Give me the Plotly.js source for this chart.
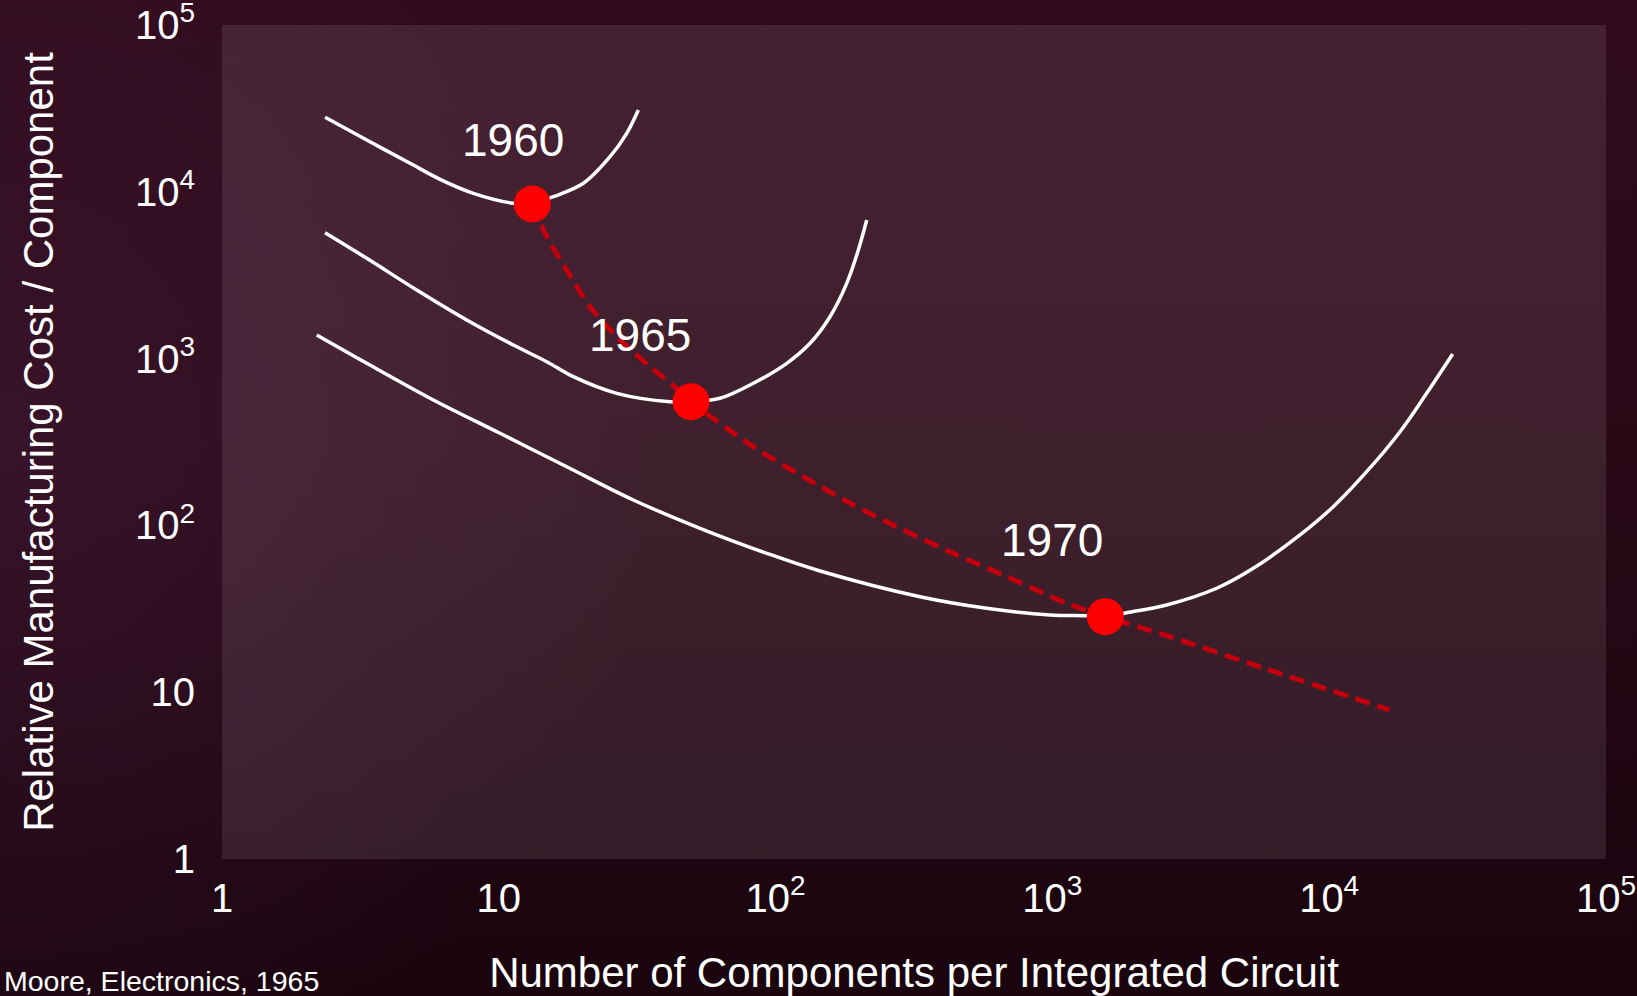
<!DOCTYPE html>
<html>
<head>
<meta charset="utf-8">
<script src="https://cdn.plot.ly/plotly-3.0.1.min.js"></script>
<style>
  html, body { margin: 0; padding: 0; width: 1637px; height: 996px; overflow: hidden; }
  body {
    background:
      radial-gradient(ellipse 40% 70% at 0% 45%, rgba(70, 30, 60, 0.5), rgba(70, 30, 60, 0) 100%),
      linear-gradient(to bottom, #300a1b 0%, #2a0917 45%, #1e0611 80%, #1a050e 100%);
  }
  #chart { width: 1637px; height: 996px; }
</style>
</head>
<body>
<div id="chart"></div>
<script>
// ---- data ----
const curve1960X = [2.356, 3.333, 4.777, 6.133, 8.088, 11.28, 13.21, 15.74, 20.20, 25.22, 28.98, 31.92];
const curve1960Y = [27970, 20440, 14820, 11880, 9795, 8534, 8452, 9346, 11246, 16230, 22420, 30930];

const curve1965X = [2.356, 3.333, 5.051, 7.656, 11.28, 14.90, 18.58, 26.67, 41.55, 49.48, 62.98, 83.09, 109.7, 133.2, 157.2, 180.7, 199.0, 213.4];
const curve1965Y = [5685, 3994, 2578, 1704, 1206, 958, 779, 619, 551, 551, 578, 711, 937, 1235, 1783, 2828, 4478, 6773];

const curve1970X = [2.198, 3.333, 5.799, 10.10, 17.59, 30.61, 53.33, 92.86, 144.7, 332.4, 579.1, 979.9, 1330, 1553, 1855, 2588, 3923, 5319, 7845, 10345, 13660, 18030, 22500, 27940];
const curve1970Y = [1385, 937, 565, 356.6, 224.9, 142.0, 96.07, 68.05, 53.30, 37.37, 31.85, 29.03, 28.75, 28.36, 29.97, 33.33, 41.98, 55.31, 87.61, 129.5, 209.9, 364.6, 619.4, 1066];

const trendX = [13.21, 14.90, 17.59, 21.35, 26.67, 35.17, 43.92, 49.48, 83.09, 125.9, 190.9, 289.3, 438.5, 664.6, 1126, 1553, 2588, 5945, 16490];
const trendY = [8452, 5379, 3398, 2047, 1353, 894, 663.6, 551, 296.4, 195.9, 132.6, 93.85, 68.05, 50.43, 34.12, 28.36, 21.82, 13.76, 7.82];

const dotYears = ['1960', '1965', '1970'];
const dotX = [13.21, 49.48, 1553];
const dotY = [8452, 551, 28.36];
const labelX = [11.28, 32.37, 994.3];
const labelY = [20440, 1385, 81.75];

const tickVals = [1, 10, 100, 1000, 10000, 100000];
const tickText = ['1', '10', '10<sup>2</sup>', '10<sup>3</sup>', '10<sup>4</sup>', '10<sup>5</sup>'];

const xTitle = 'Number of Components per Integrated Circuit';
const yTitle = 'Relative Manufacturing Cost / Component';
const sourceNote = 'Moore, Electronics, 1965';

// ---- chart ----
const FONT = '"Liberation Sans", Arial, Helvetica, sans-serif';
const whiteLine = {color: '#ffffff', width: 3.5, shape: 'spline', smoothing: 1};

const traces = [
  {x: curve1960X, y: curve1960Y, mode: 'lines', line: whiteLine, name: '1960', hoverinfo: 'skip'},
  {x: curve1965X, y: curve1965Y, mode: 'lines', line: whiteLine, name: '1965', hoverinfo: 'skip'},
  {x: curve1970X, y: curve1970Y, mode: 'lines', line: whiteLine, name: '1970', hoverinfo: 'skip'},
  {x: trendX, y: trendY, mode: 'lines', name: 'trend',
   line: {color: '#c4000c', width: 5, dash: '15px,8px', shape: 'spline', smoothing: 0.8}, hoverinfo: 'skip'},
  {x: dotX, y: dotY, mode: 'markers', name: 'minimum cost', text: dotYears,
   marker: {size: 37, color: '#ff0000', line: {width: 0}}}
];

const annotations = dotYears.map((t, i) => ({
  x: Math.log10(labelX[i]), y: Math.log10(labelY[i]), xref: 'x', yref: 'y',
  text: t, showarrow: false, xanchor: 'center', yanchor: 'middle',
  font: {family: FONT, size: 46, color: '#ffffff'}
}));
annotations.push({
  x: -0.1590, y: -0.1463, xref: 'paper', yref: 'paper', text: sourceNote,
  showarrow: false, xanchor: 'left', yanchor: 'middle',
  font: {family: FONT, size: 28.5, color: '#ffffff'}
});

const layout = {
  width: 1637, height: 996, autosize: false,
  margin: {l: 222, r: 31, t: 25, b: 137, pad: 0},
  paper_bgcolor: 'rgba(0,0,0,0)',
  plot_bgcolor: 'rgba(255,236,242,0.1)',
  showlegend: false,
  font: {family: FONT, color: '#ffffff'},
  xaxis: {
    type: 'log', range: [-0.0002, 5.0002], tickvals: tickVals, ticktext: tickText,
    showgrid: false, zeroline: false, showline: false, ticks: '',
    tickfont: {family: FONT, size: 40, color: '#ffffff'},
    ticklabelstandoff: 12, ticklabeloverflow: 'allow', automargin: false,
    title: {text: xTitle, font: {family: FONT, size: 42, color: '#ffffff'}, standoff: 39}
  },
  yaxis: {
    type: 'log', range: [-0.0002, 5.0002], tickvals: tickVals, ticktext: tickText,
    showgrid: false, zeroline: false, showline: false, ticks: '',
    tickfont: {family: FONT, size: 40, color: '#ffffff'},
    ticklabelstandoff: 26, ticklabeloverflow: 'allow', automargin: false,
    title: {text: yTitle, font: {family: FONT, size: 42, color: '#ffffff'}, standoff: 68}
  },
  annotations: annotations
};

Plotly.newPlot('chart', traces, layout, {displayModeBar: false, staticPlot: true});
</script>
</body>
</html>
